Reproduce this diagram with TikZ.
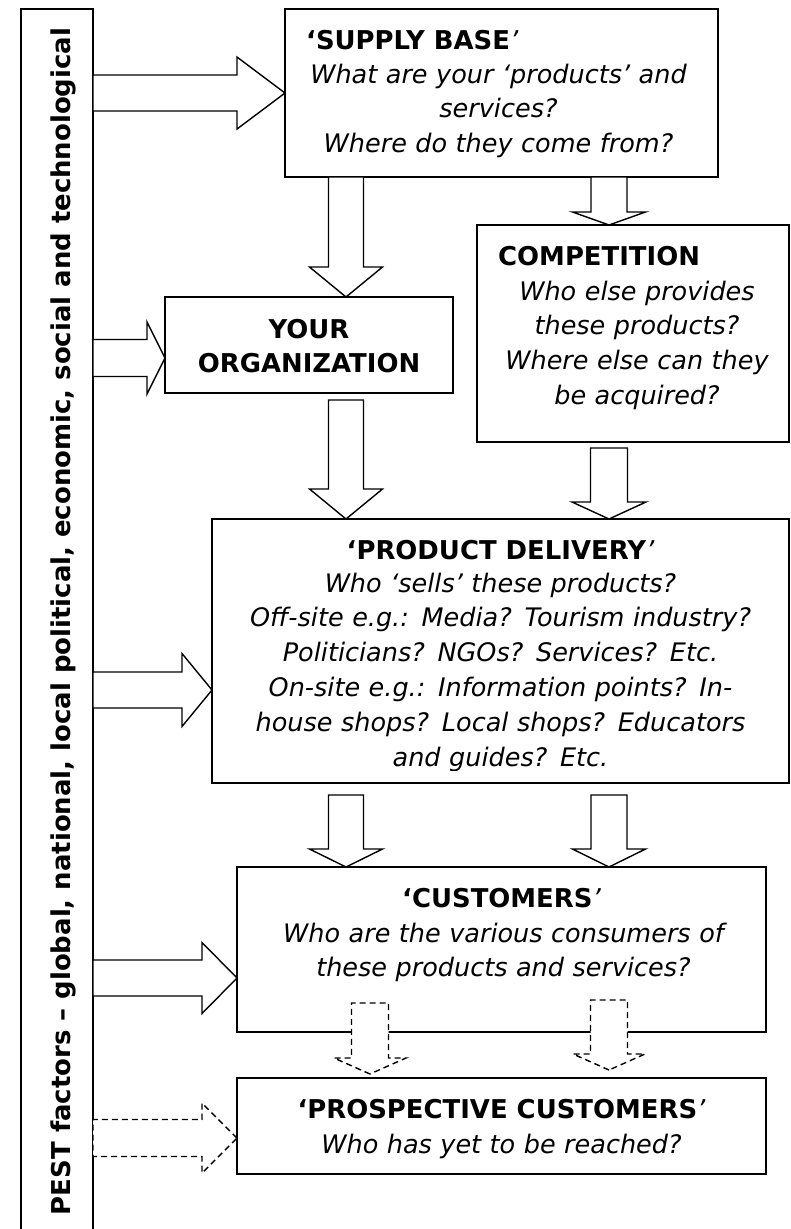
\documentclass[tikz,border=0pt]{standalone}
\usepackage{fontspec}
\usepackage{graphicx}
\setmainfont{DejaVu Sans}[
  BoldFont={DejaVu Sans Bold},
  ItalicFont={DejaVu Sans Oblique},
  BoldItalicFont={DejaVu Sans Bold Oblique}]
\usetikzlibrary{calc}

\tikzset{
  box/.style={draw, line width=1.5bp, fill=white, inner sep=0pt, outer sep=0pt, anchor=north west},
  blk/.style={draw, line width=1.4bp, fill=white, line join=miter},
  dsh/.style={blk, dash pattern=on 6bp off 4bp},
  ttl/.style={font=\fontsize{26}{35}\selectfont\bfseries, inner sep=0pt, anchor=base},
  itl/.style={font=\fontsize{25.6}{35}\selectfont\itshape, inner sep=0pt, align=center, anchor=base},
  % block arrow pointing right, tip at the pic origin:
  % #1 half shaft width, #2 half head width, #3 head length, #4 total length
  pics/rightblock/.style n args={4}{code={
    \path[pic actions] (0,0) -- (-#3,-#2) -- (-#3,-#1) -- (-#4,-#1)
      -- (-#4,#1) -- (-#3,#1) -- (-#3,#2) -- cycle;
  }},
  % block arrow pointing down, tip at the pic origin
  pics/downblock/.style n args={4}{code={
    \path[pic actions] (0,0) -- (-#2,-#3) -- (-#1,-#3) -- (-#1,-#4)
      -- (#1,-#4) -- (#1,-#3) -- (#2,-#3) -- cycle;
  }},
}

\begin{document}
\begin{tikzpicture}[x=1bp, y=-1bp]
\useasboundingbox (0,0) rectangle (791,1229);

% ---- boxes ----
\node[box, minimum width=72bp, minimum height=1223bp] (bar) at (21,9) {};
\node[box, minimum width=433bp, minimum height=168bp] (sb) at (285,9) {};
\node[box, minimum width=288bp, minimum height=96bp] (yo) at (165,297) {};
\node[box, minimum width=312bp, minimum height=217bp] (co) at (477,225) {};
\node[box, minimum width=577bp, minimum height=264bp] (pd) at (212,519) {};
\node[box, minimum width=529bp, minimum height=165bp] (cu) at (237,867) {};
\node[box, minimum width=529bp, minimum height=96bp] (pc) at (237,1078) {};

% ---- PEST bar label ----
\node[rotate=90, anchor=base, inner sep=0pt, font=\bfseries] (pest) at (70,621.5)
  {\resizebox{1187bp}{!}{PEST factors – global, national, local political, economic, social and technological}};

% ---- arrows from the PEST bar ----
\pic[blk] at ($(sb.north west)+(0,84)$)  {rightblock={18}{36}{48}{192}};
\pic[blk] at ($(yo.north west)+(0,61)$)  {rightblock={18.5}{36}{18}{72}};
\pic[blk] at ($(pd.north west)+(0,171)$) {rightblock={18}{36.5}{30}{119}};
\pic[blk] at ($(cu.north west)+(0,111)$) {rightblock={18}{35.5}{35}{144}};
\pic[dsh] at ($(pc.north west)+(0,60)$)  {rightblock={18.5}{35}{35}{144}};

% ---- arrows between boxes ----
\pic[blk] at ($(yo.north west)+(181,0)$) {downblock={17.5}{36.5}{30}{120}};
\pic[blk] at ($(co.north west)+(132,0)$) {downblock={18}{36.5}{13}{48}};
\pic[blk] at ($(pd.north west)+(134,0)$) {downblock={17.5}{36.5}{30}{119}};
\pic[blk] at ($(pd.north west)+(397,0)$) {downblock={18.5}{37}{17}{71}};
\pic[blk] at ($(cu.north west)+(109,0)$) {downblock={17.5}{36.5}{18}{72}};
\pic[blk] at ($(cu.north west)+(372,0)$) {downblock={18}{36.5}{18}{72}};
\pic[dsh] at ($(pc.north west)+(133,-4)$) {downblock={18.5}{36}{16}{71}};
\pic[dsh] at ($(pc.north west)+(372,-8)$) {downblock={18.5}{36}{16}{70}};

% ---- texts ----
\node[ttl, anchor=base west] (sbt) at ($(sb.north west)+(21,40)$) {‘SUPPLY BASE{\mdseries\itshape ’}};
\node[itl, text width=425bp] (sbq) at ($(sb.north)+(-3,74)$)
  {What are your ‘products’ and\\services?\\Where do they come from?};

\node[ttl, anchor=base west] (cot) at ($(co.north west)+(21,40)$) {COMPETITION};
\node[itl, text width=305bp] (coq) at ($(co.north)+(4,75)$)
  {Who else provides\\these products?\\Where else can they\\be acquired?};

\node[ttl, align=center, text width=280bp] (yot) at ($(yo.north)+(0,41)$) {YOUR\\ORGANIZATION};

\node[ttl] (pdt) at ($(pd.north)+(0,40)$) {‘PRODUCT DELIVERY{\mdseries\itshape ’}};
\begin{scope}
  \clip (pd.north west) rectangle ($(pd.south east)+(0,-13)$);
  \node[itl, text width=570bp] (pdq) at ($(pd.north)+(0,73)$)
    {Who ‘sells’ these products?\\Off-site e.g.: Media? Tourism industry?\\Politicians? NGOs? Services? Etc.\\On-site e.g.: Information points? In-\\house shops? Local shops? Educators\\and guides? Etc.};
\end{scope}

\node[ttl] (cut) at ($(cu.north)+(0,40)$) {‘CUSTOMERS{\mdseries\itshape ’}};
\node[itl, text width=520bp] (cuq) at ($(cu.north)+(2,75)$)
  {Who are the various consumers of\\these products and services?};

\node[ttl] (pct) at ($(pc.north)+(0,40)$) {‘PROSPECTIVE CUSTOMERS{\mdseries\itshape ’}};
\node[itl, text width=520bp] (pcq) at ($(pc.north)+(0,75)$) {Who has yet to be reached?};
\end{tikzpicture}
\end{document}
